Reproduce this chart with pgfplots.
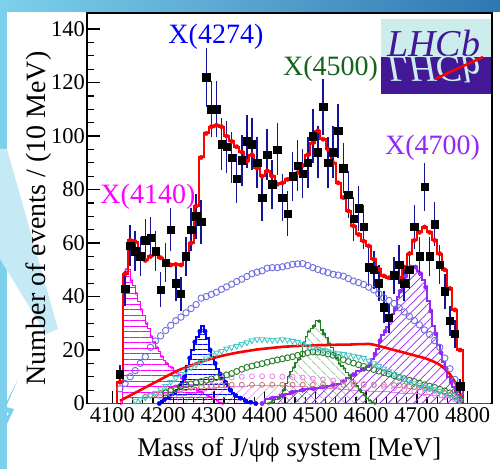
\documentclass[border=0pt]{standalone}
\usepackage{fontspec}
\setmainfont{Liberation Serif}
\usepackage{graphicx}
\usepackage{pgfplots}
\pgfplotsset{compat=1.18}
\usepackage{pgfplotstable}
\usetikzlibrary{patterns.meta}

\definecolor{errblue}{RGB}{20,20,150}
\definecolor{fitred}{RGB}{255,0,0}
\definecolor{c4140}{RGB}{255,0,255}
\definecolor{c4274}{RGB}{0,0,255}
\definecolor{c4500}{RGB}{35,125,35}
\definecolor{l4500}{RGB}{20,100,30}
\definecolor{c4700}{RGB}{150,40,245}
\definecolor{nrcol}{RGB}{110,110,225}
\definecolor{tricol}{RGB}{70,200,200}
\definecolor{dgcirc}{RGB}{40,125,40}
\definecolor{brcirc}{RGB}{195,120,120}
\definecolor{pkcirc}{RGB}{235,130,235}
\definecolor{lhcbcyan}{RGB}{205,236,236}
\definecolor{lhcbpurple}{RGB}{66,24,150}
\definecolor{slidelight}{RGB}{125,208,236}
\definecolor{slidedark}{RGB}{45,120,178}

% data: bin centre, events, error
\pgfplotstableread{
x y e
4115 11 3.4
4125 43 6.6
4135 59 7.7
4145 57 7.5
4155 55 7.4
4165 61 7.8
4175 62 7.9
4185 57 7.5
4195 42.6 6.5
4205 52.6 7.3
4215 65 8.1
4225 45 6.7
4235 41 6.4
4245 55 7.4
4255 65 8.1
4265 70 8.4
4275 68 8.2
4285 122 11.0
4295 110 10.5
4305 110 10.5
4315 97 9.8
4325 96 9.8
4335 92 9.6
4345 84 9.2
4355 91 9.5
4365 98 9.9
4375 97 9.8
4385 90 9.5
4395 77 8.8
4405 93 9.6
4415 82 9.1
4425 95 9.7
4435 77 8.8
4445 71 8.4
4455 85 9.2
4465 89 9.4
4475 86 9.3
4485 90 9.5
4495 100 10.0
4505 94 9.7
4515 111 10.5
4525 90 9.5
4535 94 9.7
4545 102 10.1
4555 88 9.4
4565 78 8.8
4575 69 8.3
4585 73 8.5
4595 66 8.1
4605 51 7.1
4615 50 7.1
4625 45 6.7
4635 36 6.0
4645 32 5.7
4655 48 6.9
4665 52 7.2
4675 45 6.7
4685 50 7.1
4695 66 8.1
4705 55 7.4
4715 81 9.0
4725 55 7.4
4735 67 8.2
4745 52 7.2
4755 42 6.5
4765 31 5.6
4775 26 5.1
4785 6.5 2.5
}\datatab

% total fit
\pgfplotstableread{
x y
4055 0
4105 0
4115 8
4125 48.5
4135 61
4145 60.5
4155 56
4165 53.5
4175 55
4185 56
4195 54.5
4205 52.6
4215 51.8
4225 52
4235 51.8
4245 54.5
4255 60
4265 73.8
4275 92
4285 101
4295 103.5
4305 104
4315 103.5
4325 100
4335 98
4345 96
4355 94
4365 90.7
4375 93
4385 88
4395 85
4405 87
4415 85
4425 82
4435 82.5
4445 83.8
4455 84.7
4465 86.3
4475 89
4485 93
4495 97.5
4505 101.9
4515 98.8
4525 95
4535 90
4545 82.5
4555 77
4565 72
4575 66.4
4585 63.2
4595 60.7
4605 58.9
4615 53.9
4625 50.2
4635 47.7
4645 47
4655 47.7
4665 47
4675 51
4685 56
4695 61
4705 64
4715 66
4725 64
4735 61
4745 56
4755 50
4765 43
4775 35
4785 20
4795 0
4845 0
}\totaltab

% X(4140)
\pgfplotstableread{
x y
4117.5 0
4122.5 44
4127.5 50
4132.5 50
4137.5 46
4142.5 44
4147.5 41
4152.5 38
4157.5 35
4162.5 33
4167.5 30
4172.5 28
4177.5 25
4182.5 23
4187.5 21
4192.5 19.5
4197.5 17.5
4202.5 16
4207.5 15
4212.5 14
4217.5 13.4
4222.5 12.5
4227.5 11.5
4232.5 10.9
4237.5 9.5
4242.5 8.5
4247.5 7.8
4252.5 7
4257.5 6.2
4262.5 5.8
4267.5 5
4272.5 4.5
4277.5 4
4282.5 3.5
4287.5 3
4292.5 2.5
4297.5 2
4302.5 1.5
4307.5 1
4312.5 0.5
4317.5 0
}\xaa

% X(4274)
\pgfplotstableread{
x y
4192.5 0
4197.5 1
4202.5 1.5
4207.5 2
4212.5 2.5
4217.5 3
4222.5 4
4227.5 5
4232.5 6.5
4237.5 8
4242.5 10
4247.5 14
4252.5 17
4257.5 20
4262.5 23
4267.5 25
4272.5 27
4277.5 29
4282.5 27
4287.5 24.5
4292.5 20
4297.5 17.5
4302.5 15
4307.5 13
4312.5 11
4317.5 9.5
4322.5 8
4327.5 6.5
4332.5 5
4337.5 4
4342.5 3
4347.5 2.5
4352.5 2
4357.5 1.5
4362.5 1
4367.5 0.7
4372.5 0.5
4377.5 0.3
4382.5 0
}\xbb

% X(4500)
\pgfplotstableread{
x y
4407.5 0
4412.5 0.5
4417.5 1
4422.5 1.5
4427.5 2
4432.5 3
4437.5 5
4442.5 7.5
4447.5 10
4452.5 12
4457.5 13.5
4462.5 15.3
4467.5 16.5
4472.5 17.8
4477.5 22.7
4482.5 25
4487.5 27
4492.5 28
4497.5 29
4502.5 31
4507.5 30.8
4512.5 27.5
4517.5 26
4522.5 24.6
4527.5 22.5
4532.5 20.9
4537.5 18
4542.5 17
4547.5 15
4552.5 14
4557.5 13
4562.5 11.5
4567.5 10.5
4572.5 9
4577.5 7.5
4582.5 6.5
4587.5 5
4592.5 4
4597.5 3
4602.5 2
4607.5 1
4612.5 0.5
4617.5 0
}\xcc

% X(4700)
\pgfplotstableread{
x y
4395 0
4405 1.5
4415 2
4425 2.5
4435 3
4445 3.6
4455 4.2
4465 4.7
4475 5
4485 5.3
4495 5.6
4505 5.9
4515 6.2
4525 6.5
4535 6.8
4545 7.3
4555 8.3
4565 9.6
4575 10.8
4585 12
4595 12.8
4602.5 13.8
4607.5 14.7
4612.5 16.5
4617.5 18.5
4622.5 20.5
4627.5 23.5
4632.5 25.5
4637.5 27
4642.5 28.5
4647.5 31
4652.5 33.5
4657.5 35.5
4662.5 40
4667.5 42
4672.5 45
4677.5 47.5
4682.5 49.5
4687.5 51
4692.5 51.5
4697.5 51
4702.5 49.5
4707.5 48.5
4712.5 46
4717.5 43.5
4722.5 38.5
4727.5 34.6
4732.5 29
4737.5 26
4742.5 22
4747.5 19
4752.5 15.5
4757.5 13
4762.5 10
4767.5 8
4772.5 6
4777.5 4.5
4782.5 3
4787.5 1.5
4792.5 0
}\xdd

% broad low-level hatched component
\pgfplotstableread{
x y
4195 0
4215 1.5
4235 3
4255 4
4275 5
4295 5.5
4315 6
4335 6.3
4355 6.5
4375 6.7
4395 6.8
4415 6.8
4435 6.7
4455 6.5
4475 6.3
4495 6
4515 5.8
4535 5.5
4555 5.2
4575 5
4595 4.8
4615 4.6
4635 4.4
4655 4.2
4675 4
4695 3.8
4715 3.5
4735 3
4755 2.5
4775 1.5
4795 0
}\lowtab

% non-resonant (open circles)
\pgfplotstableread{
x y
4115 5.5
4125 7.5
4135 10
4145 12.3
4155 15
4165 17.5
4175 21
4185 23.4
4195 25.3
4205 27.3
4215 29.2
4225 31
4235 32.3
4245 33.9
4255 35.5
4265 37
4275 39.4
4285 40
4295 40.8
4305 41.6
4315 42.7
4325 43.6
4335 44.6
4345 45.6
4355 46.5
4365 47.5
4375 48.5
4385 49.1
4395 49.6
4405 50.6
4415 50.8
4425 50.8
4435 51.1
4445 51.5
4455 52
4465 52.2
4475 52.3
4485 51.6
4495 50.8
4505 50.1
4515 49.5
4525 48.9
4535 48.3
4545 48
4555 47.6
4565 46.7
4575 45.8
4585 45.2
4595 44.5
4605 43.5
4615 42.5
4625 41
4635 39.5
4645 38.5
4655 37.4
4665 35.8
4675 34.2
4685 32.6
4695 31
4705 29.4
4715 27.5
4725 25.8
4735 23.5
4745 21
4755 17
4765 13
4775 9
4785 4
}\nrtab

% open down-triangles
\pgfplotstableread{
x y
4145 1
4155 1.5
4165 2.2
4175 3
4185 4
4195 5.2
4205 6.5
4215 8
4225 9.5
4235 11
4245 12.3
4255 13.5
4265 14.5
4275 15.5
4285 16.8
4295 18
4305 19
4315 19.6
4325 20.5
4335 21
4345 21.5
4355 22.2
4365 22.8
4375 23.6
4385 24
4395 24
4405 23.9
4415 23.7
4425 23.8
4435 24
4445 23.8
4455 23.4
4465 23
4475 22.3
4485 21.5
4495 20.9
4505 20.4
4515 20
4525 19.5
4535 19
4545 18.7
4555 18.4
4565 18.2
4575 17.8
4585 17.4
4595 17
4605 16
4615 15
4625 14
4635 13
4645 12
4655 11
4665 10
4675 9
4685 8.2
4695 7.5
4705 6.8
4715 6.2
4725 5.8
4735 5.2
4745 4.6
4755 4
4765 3.2
4775 2.2
4785 1
}\tritab

% dark green open circles
\pgfplotstableread{
x y
4205 4
4215 5
4225 5.8
4235 6.5
4245 7
4255 7.3
4265 7.8
4275 8.2
4285 8.7
4295 9.2
4305 9.7
4315 10.2
4325 10.7
4335 11.2
4345 12
4355 12.8
4365 13.5
4375 14
4385 14.5
4395 14.9
4405 15.4
4415 15.9
4425 16.3
4435 16.7
4445 17.1
4455 17.5
4465 18
4475 18.5
4485 19
4495 19.3
4505 19.2
4515 19
4525 18.5
4535 18
4545 17.2
4555 16.4
4565 15.7
4575 15.1
4585 14.5
4595 13.9
4605 13.3
4615 12.7
4625 12.1
4635 11.5
4645 11
4655 10.4
4665 9.8
4675 9.3
4685 8.7
4695 8.2
4705 7.6
4715 7
4725 6.5
4735 6
4745 5.3
4755 4.7
4765 4
4775 3
4785 1.5
}\dgtab

% smooth red component
\pgfplotstableread{
x y
4115 1
4125 2
4135 3
4145 4
4155 5
4165 6
4175 7
4185 8
4195 9
4205 10
4215 11
4225 12
4235 12.8
4245 13.5
4255 14.2
4265 15
4275 15.6
4285 16.2
4295 16.8
4305 17.3
4315 17.8
4325 18.2
4335 18.6
4345 19
4355 19.3
4365 19.6
4375 19.9
4385 20.2
4395 20.4
4405 20.6
4415 20.8
4425 21
4435 21.2
4445 21.3
4455 21.4
4465 21.5
4475 21.6
4485 21.7
4495 21.7
4505 21.8
4515 21.8
4525 21.9
4535 21.9
4545 22
4555 22
4565 22
4575 22.1
4585 22.2
4595 22.2
4605 22.3
4615 22
4625 21.5
4635 21
4645 20.5
4655 20
4665 19.5
4675 19
4685 18.5
4695 18
4705 17.5
4715 17
4725 16.3
4735 15.5
4745 14.5
4755 13
4765 11
4775 8
4785 4
4790 0
}\redcomp

% low open circles (brown)
\pgfplotstableread{
x y
4165 2.5
4175 3
4185 3.5
4195 4
4205 4.4
4215 4.8
4225 5.1
4235 5.4
4245 5.7
4255 5.9
4265 6.1
4275 6.3
4285 6.5
4295 6.6
4305 6.7
4315 6.8
4325 6.9
4335 7
4355 7
4375 7
4395 7
4415 7
4435 7
4455 7
4475 7
4495 7
4515 7
4535 7
4555 7
4575 7
4595 7
4615 7
4635 7
4655 6.9
4665 6.8
4675 6.6
4685 6.4
4695 6.2
4705 6
4715 5.7
4725 5.4
4735 5
4745 4.5
4755 3.9
4765 3.2
4775 2.4
4785 1.5
}\brtab

% low open circles (pink)
\pgfplotstableread{
x y
4195 2.5
4215 3.5
4235 5
4255 6.3
4275 7.5
4295 8.5
4315 9.3
4335 9.7
4355 10
4375 10.2
4395 10.2
4415 10.2
4435 10
4455 9.9
4475 9.7
4495 9.3
4515 9
4535 8.6
4555 8.2
4575 7.8
4595 7.3
4615 6.8
4635 6.2
4655 5.7
4675 5.1
4695 4.5
4715 3.8
4735 3.1
4755 2.4
4775 1.5
}\pktab

\begin{document}
\begin{tikzpicture}
% page background with the slide frame
\begin{scope}[x=1pt,y=1pt]
\fill[white] (0,0) rectangle (500,469);
\shade[left color=slidelight, right color=slidedark] (0,457) rectangle (500,469);
\fill[slidelight] (0,0) rectangle (7,469);
\fill[slidelight!45] (0,320) -- (7,320) -- (58,140) -- (46,135) -- (0,210) -- cycle;
\fill[slidelight] (0,30) -- (14,60) -- (6,62) -- (18,90) -- (2,58) -- (9,56) -- (0,40) -- cycle;
\end{scope}

\begin{axis}[
  at={(87pt,65.5pt)}, anchor=south west,
  scale only axis, width=405pt, height=390.5pt,
  xmin=4050, xmax=4848, ymin=0, ymax=146,
  axis line style={line width=1.8pt},
  xtick={4100,4200,...,4800}, minor x tick num=4,
  ytick={0,20,...,140}, minor y tick num=3,
  tick pos=left, tick align=inside,
  major tick length=13pt, minor tick length=7pt,
  major tick style={line width=1.6pt, black},
  minor tick style={line width=1.2pt, black},
  /pgf/number format/assume math mode=true,
  /pgf/number format/1000 sep={},
  tick label style={font=\fontsize{22.5}{26}\selectfont, inner sep=1pt},
  xticklabel style={yshift=-3pt},
  yticklabel style={xshift=-1pt},
  xlabel={Mass of J/ψϕ system [MeV]},
  xlabel style={font=\fontsize{27}{30}\selectfont, at={(axis description cs:0.884,-0.1357)}, anchor=base east},
  ylabel={Number of events / (10 MeV)},
  ylabel style={font=\fontsize{28}{30}\selectfont, at={(axis description cs:-0.1037,0.91)}, anchor=base east},
]
% hatched resonance components
\addplot[const plot mark mid, draw=pkcirc, line width=0.6pt,
  pattern={Lines[angle=45,distance=6pt,line width=0.5pt]}, pattern color=pkcirc]
  table {\lowtab} \closedcycle;
\addplot[const plot mark mid, draw=c4700, line width=2pt,
  pattern={Lines[angle=45,distance=6pt,line width=0.7pt]}, pattern color=c4700]
  table {\xdd} \closedcycle;
\addplot[const plot mark mid, draw=c4140, line width=1pt,
  pattern={Lines[angle=0,distance=5.5pt,line width=0.7pt]}, pattern color=c4140]
  table {\xaa} \closedcycle;
\addplot[const plot mark mid, draw=c4500, line width=1.3pt,
  pattern={Lines[angle=-45,distance=6.5pt,line width=0.7pt]}, pattern color=c4500]
  table {\xcc} \closedcycle;
\addplot[const plot mark mid, draw=c4274, line width=2pt,
  pattern={Lines[angle=0,distance=5pt,line width=0.7pt]}, pattern color=c4274]
  table {\xbb} \closedcycle;
% markers on the resonance outlines
\addplot[only marks, mark=*, mark size=2.2pt, c4700, mark repeat=2] table {\xdd};
\addplot[only marks, mark=*, mark size=2.2pt, c4274, mark repeat=2] table {\xbb};
\addplot[only marks, mark=o, mark size=1.6pt, c4140, mark repeat=2] table {\xaa};
\addplot[only marks, mark=o, mark size=1.6pt, c4500, mark repeat=2] table {\xcc};
% smooth components
\addplot[only marks, mark=o, mark size=2.5pt, brcirc, line width=0.8pt] table {\brtab};
\addplot[only marks, mark=o, mark size=2.5pt, pkcirc, line width=0.8pt] table {\pktab};
\addplot[only marks, mark=o, mark size=3pt, dgcirc, line width=0.9pt] table {\dgtab};
\addplot[only marks, mark=triangle, mark size=3.2pt, tricol, line width=0.9pt,
  mark options={rotate=180}] table {\tritab};
\addplot[only marks, mark=o, mark size=3.2pt, nrcol, line width=0.9pt] table {\nrtab};
\addplot[fitred, line width=2.6pt] table {\redcomp};
% total fit
\addplot[const plot mark mid, fitred, line width=2pt] table {\totaltab};
\addplot[only marks, mark=*, mark size=2.2pt, fitred] table[restrict expr to domain={\thisrow{y}}{1:200}] {\totaltab};
% data
\addplot[only marks, mark=square*, mark size=3.7pt, black,
  error bars/.cd, y dir=both, y explicit,
  error mark=none, error bar style={errblue, line width=1.5pt}]
  table[x=x, y=y, y error=e] {\datatab};
% state labels
\node[c4140, font=\fontsize{28}{30}\selectfont] at (axis cs:4170,77.2) {X(4140)};
\node[c4274, font=\fontsize{28}{30}\selectfont] at (axis cs:4304,137) {X(4274)};
\node[l4500, font=\fontsize{28}{30}\selectfont] at (axis cs:4530,125.2) {X(4500)};
\node[c4700, font=\fontsize{28}{30}\selectfont] at (axis cs:4731,95.5) {X(4700)};
\end{axis}

% experiment logo
\begin{scope}[x=1pt,y=1pt]
\fill[lhcbcyan] (381,375) rectangle (491,450);
\fill[lhcbpurple] (381,375) rectangle (491,412.3);
\node[anchor=base west, inner sep=0pt, text=lhcbpurple,
  font=\fontsize{38}{38}\selectfont\itshape] at (387,412.3) {LHCb};
\node[anchor=base west, inner sep=0pt, text=lhcbcyan,
  font=\fontsize{38}{38}\selectfont\itshape] at (387,412.3) {\scalebox{1}[-1]{LHCb}};
\draw[fitred, line width=2.5pt] (435,390) -- (483,412);
\end{scope}
\end{tikzpicture}
\end{document}
